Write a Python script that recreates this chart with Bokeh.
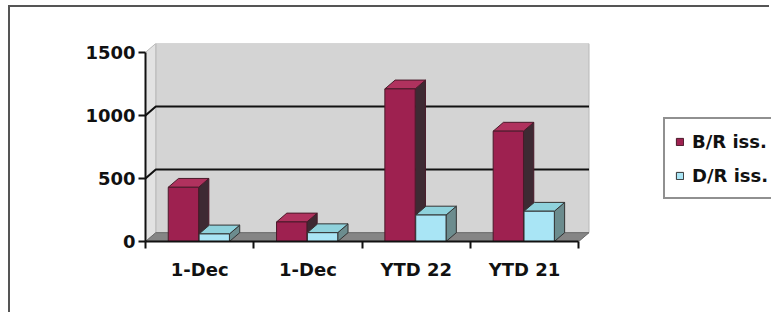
from bokeh.plotting import figure
from bokeh.models import FixedTicker, Legend, LegendItem, Range1d
from bokeh.embed import file_html
from bokeh.resources import INLINE

# ---- data ----
categories = ["1-Dec", "1-Dec", "YTD 22", "YTD 21"]
series_names = ["B/R iss.", "D/R iss."]
br_values = [430, 155, 1210, 875]
dr_values = [60, 70, 210, 240]
y_ticks = [0, 500, 1000, 1500]

# ---- style / geometry ----
DX = 0.095   # depth offset in x units
DY = 70      # depth offset in y units
W = 0.28
OFFSETS = [-0.15, 0.135]
FRONT = ["#9E2150", "#A9E5F5"]
TOPC = ["#B0325E", "#8FD2DC"]
SIDE = ["#3E2A33", "#6C8C8E"]
EDGE = ["#4A1A2A", "#333333"]
FONT = "DejaVu Sans"
FSIZE = "18px"

n = len(categories)
ymax = y_ticks[-1]

p = figure(width=761, height=307,
           x_range=Range1d(0, 5.78), y_range=Range1d(0, ymax + DY),
           output_backend="svg", toolbar_location=None,
           min_border_left=135, min_border_right=0,
           min_border_top=36, min_border_bottom=73)
p.outline_line_color = None
p.xgrid.visible = False
p.ygrid.visible = False
p.background_fill_color = "white"
p.border_fill_color = "white"
p.styles = {"border-top": "2px solid #555555", "border-left": "2px solid #555555",
            "margin-left": "8px", "margin-top": "5px"}

# back wall
p.patch([DX, n + DX, n + DX, DX], [DY, DY, ymax + DY, ymax + DY],
        fill_color="#D4D4D4", line_color="#B8B8B8", line_width=1)
# side wall
p.patch([0, DX, DX, 0], [0, DY, ymax + DY, ymax],
        fill_color="#E2E2E2", line_color="#B8B8B8", line_width=1)
# floor
p.patch([0, n, n + DX, DX], [0, 0, DY, DY],
        fill_color="#858585", line_color="#6A6A6A", line_width=1)
# gridlines
for v in y_ticks[1:-1]:
    p.line([0, DX, n + DX], [v, v + DY, v + DY], line_color="#111111", line_width=2)

# bars
front_renderers = []
for s, vals in enumerate([br_values, dr_values]):
    cx = [i + 0.5 + OFFSETS[s] for i in range(n)]
    side_xs = [[c + W / 2, c + W / 2 + DX, c + W / 2 + DX, c + W / 2] for c in cx]
    side_ys = [[0, DY, v + DY, v] for v in vals]
    p.patches(side_xs, side_ys, fill_color=SIDE[s], line_color=EDGE[s], line_width=1)
    top_xs = [[c - W / 2, c + W / 2, c + W / 2 + DX, c - W / 2 + DX] for c in cx]
    top_ys = [[v, v, v + DY, v + DY] for v in vals]
    p.patches(top_xs, top_ys, fill_color=TOPC[s], line_color=EDGE[s], line_width=1)
    r = p.vbar(x=cx, top=vals, bottom=0, width=W, fill_color=FRONT[s],
               line_color=EDGE[s], line_width=1)
    front_renderers.append(r)

# axes
p.yaxis.ticker = FixedTicker(ticks=y_ticks)
p.yaxis.bounds = (0, ymax)
p.yaxis.axis_line_color = "#111111"
p.yaxis.axis_line_width = 2
p.yaxis.major_tick_line_color = "#111111"
p.yaxis.major_tick_line_width = 2
p.yaxis.major_tick_out = 7
p.yaxis.major_tick_in = 0
p.yaxis.minor_tick_line_color = None
p.yaxis.major_label_standoff = 3
p.yaxis.major_label_text_font = FONT
p.yaxis.major_label_text_font_style = "bold"
p.yaxis.major_label_text_font_size = FSIZE
p.yaxis.major_label_text_color = "#111111"

centers = [i + 0.5 for i in range(n)]
p.xaxis.ticker = FixedTicker(ticks=centers, minor_ticks=list(range(n + 1)))
p.xaxis.major_label_overrides = {c: lab for c, lab in zip(centers, categories)}
p.xaxis.bounds = (0, n)
p.xaxis.axis_line_color = "#111111"
p.xaxis.axis_line_width = 2
p.xaxis.major_tick_out = 0
p.xaxis.major_tick_in = 0
p.xaxis.major_tick_line_color = None
p.xaxis.minor_tick_out = 7
p.xaxis.minor_tick_in = 0
p.xaxis.minor_tick_line_color = "#111111"
p.xaxis.minor_tick_line_width = 2
p.xaxis.major_label_standoff = 10
p.xaxis.major_label_text_font = FONT
p.xaxis.major_label_text_font_style = "bold"
p.xaxis.major_label_text_font_size = FSIZE
p.xaxis.major_label_text_color = "#111111"

legend = Legend(items=[LegendItem(label=series_names[i], renderers=[front_renderers[i]])
                       for i in range(2)],
                location=(518, 42))
legend.border_line_color = "#222222"
legend.border_line_width = 2
legend.background_fill_color = "white"
legend.background_fill_alpha = 1
legend.label_text_font = FONT
legend.label_text_font_style = "bold"
legend.label_text_font_size = FSIZE
legend.label_text_color = "#111111"
legend.glyph_width = 9
legend.glyph_height = 9
legend.label_height = 24
legend.spacing = 10
legend.padding = 10
legend.margin = 0
legend.label_standoff = 8
p.add_layout(legend)

open("out.html", "w").write(file_html(p, INLINE))
